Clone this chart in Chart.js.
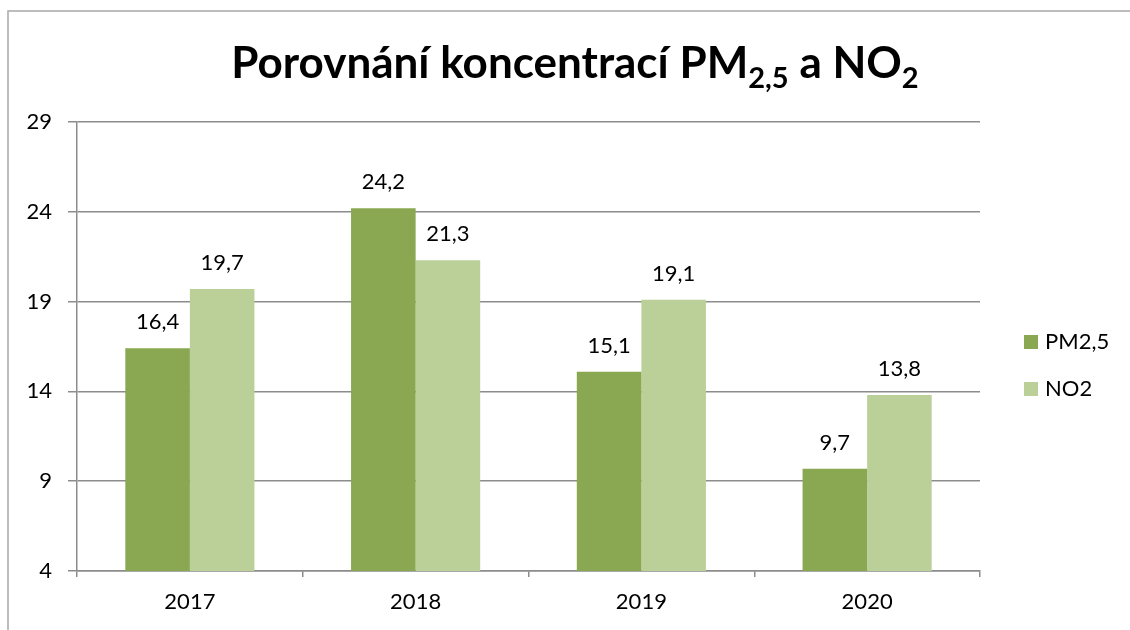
<!DOCTYPE html>
<html>
<head>
<meta charset="utf-8">
<script src="https://cdn.jsdelivr.net/npm/chart.js@4/dist/chart.umd.min.js"></script>
<style>
  html, body { margin: 0; padding: 0; background: #fff; }
  #wrap { width: 1130px; height: 630px; position: relative; }
</style>
</head>
<body>
<div id="wrap"><canvas id="c"></canvas></div>
<script>
// data
const YEARS = ['2017', '2018', '2019', '2020'];
const PM25 = [16.4, 24.2, 15.1, 9.7];
const NO2 = [19.7, 21.3, 19.1, 13.8];
const SERIES_NAMES = ['PM2,5', 'NO2'];
const Y_MIN = 4, Y_MAX = 29, Y_STEP = 5;

const DARK = '#8aa751', LIGHT = '#bbd098';
const GRID = '#8c8c8c';
const FONT = 'Lato, "Open Sans", sans-serif';

const fmt = (v) => String(v).replace('.', ',');

// frame around the whole chart (cut off at right/bottom like the reference)
const framePlugin = {
  id: 'frame',
  beforeDraw(chart) {
    const { ctx } = chart;
    ctx.save();
    ctx.strokeStyle = '#a8a8a8';
    ctx.lineWidth = 1.5;
    ctx.beginPath();
    ctx.moveTo(1131, 11);
    ctx.lineTo(8, 11);
    ctx.lineTo(8, 631);
    ctx.stroke();
    ctx.restore();
  },
};

// title with subscripts
const titlePlugin = {
  id: 'subTitle',
  afterDraw(chart) {
    const { ctx } = chart;
    const parts = [
      { t: 'Porovnání koncentrací PM', sub: false },
      { t: '2,5', sub: true },
      { t: ' a NO', sub: false },
      { t: '2', sub: true },
    ];
    const big = 'bold 44px ' + FONT, small = 'bold 29px ' + FONT;
    ctx.save();
    let w = 0;
    parts.forEach((p) => { ctx.font = p.sub ? small : big; w += ctx.measureText(p.t).width; });
    let x = 575 - w / 2;
    const base = 78;
    ctx.fillStyle = '#000';
    ctx.textBaseline = 'alphabetic';
    parts.forEach((p) => {
      ctx.font = p.sub ? small : big;
      ctx.fillText(p.t, x, p.sub ? base + 10 : base);
      x += ctx.measureText(p.t).width;
    });
    ctx.restore();
  },
};

// value labels above each bar
const valueLabels = {
  id: 'valueLabels',
  afterDatasetsDraw(chart) {
    const { ctx } = chart;
    ctx.save();
    ctx.font = '22px ' + FONT;
    ctx.fillStyle = '#000';
    ctx.textAlign = 'center';
    ctx.textBaseline = 'middle';
    chart.data.datasets.forEach((ds, i) => {
      chart.getDatasetMeta(i).data.forEach((bar, j) => {
        ctx.fillText(fmt(ds.data[j]), bar.x, bar.y - 26);
      });
    });
    ctx.restore();
  },
};

// legend on the right
const sideLegend = {
  id: 'sideLegend',
  afterDraw(chart) {
    const { ctx } = chart;
    ctx.save();
    ctx.font = '22px ' + FONT;
    ctx.textBaseline = 'middle';
    chart.data.datasets.forEach((ds, i) => {
      const y = 342 + i * 47;
      ctx.fillStyle = ds.backgroundColor;
      ctx.fillRect(1024, y - 7, 14, 14);
      ctx.fillStyle = '#000';
      ctx.fillText(ds.label, 1045, y);
    });
    ctx.restore();
  },
};

new Chart(document.getElementById('c'), {
  type: 'bar',
  data: {
    labels: YEARS,
    datasets: [
      { label: SERIES_NAMES[0], data: PM25, backgroundColor: DARK },
      { label: SERIES_NAMES[1], data: NO2, backgroundColor: LIGHT },
    ],
  },
  options: {
    responsive: true,
    maintainAspectRatio: false,
    animation: false,
    layout: { padding: { top: 122, right: 150, left: 0, bottom: 0 } },
    datasets: { bar: { categoryPercentage: 0.572, barPercentage: 1 } },
    plugins: { legend: { display: false }, title: { display: false }, tooltip: { enabled: false } },
    scales: {
      x: {
        offset: true,
        grid: { offset: true, drawOnChartArea: false, drawTicks: true, tickLength: 6, color: GRID, lineWidth: 1.5 },
        border: { color: GRID, width: 1.5 },
        ticks: { color: '#000', font: { family: FONT, size: 22 }, padding: 12 },
        afterFit(s) { s.height = 59; },
      },
      y: {
        min: Y_MIN, max: Y_MAX,
        grid: { color: GRID, lineWidth: 1.5, tickLength: 9 },
        border: { color: GRID, width: 1.5 },
        ticks: { stepSize: Y_STEP, color: '#000', font: { family: FONT, size: 22 }, padding: 16 },
        afterFit(s) { s.width = 77; },
      },
    },
  },
  plugins: [framePlugin, titlePlugin, valueLabels, sideLegend],
});
</script>
</body>
</html>
